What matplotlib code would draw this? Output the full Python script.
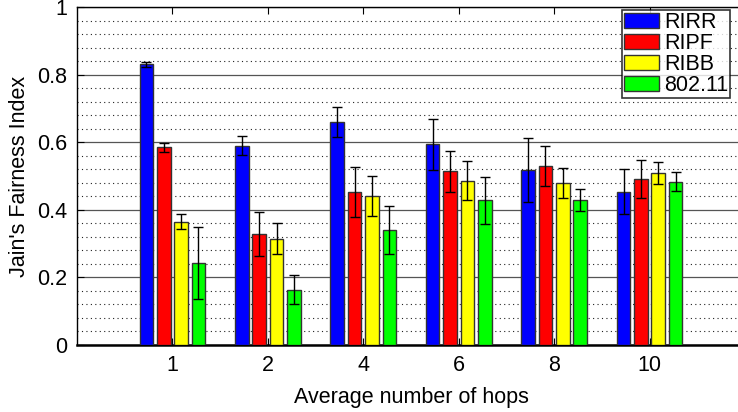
import matplotlib
matplotlib.use("Agg")
import matplotlib.pyplot as plt
import numpy as np
from matplotlib.ticker import FixedLocator

plt.rcParams['font.family'] = ['Liberation Sans', 'DejaVu Sans']

hops = ["1", "2", "4", "6", "8", "10"]
series = ["RIRR", "RIPF", "RIBB", "802.11"]
colors = ["#0000ff", "#ff0000", "#ffff00", "#00ff00"]

rirr = [0.830, 0.590, 0.659, 0.594, 0.517, 0.454]
ripf = [0.585, 0.329, 0.453, 0.514, 0.529, 0.491]
ribb = [0.365, 0.314, 0.441, 0.486, 0.480, 0.508]
wifi = [0.242, 0.163, 0.341, 0.428, 0.429, 0.483]

rirr_err = [0.008, 0.027, 0.045, 0.076, 0.095, 0.067]
ripf_err = [0.013, 0.065, 0.075, 0.060, 0.060, 0.056]
ribb_err = [0.023, 0.046, 0.060, 0.057, 0.044, 0.032]
wifi_err = [0.107, 0.043, 0.071, 0.069, 0.033, 0.028]

values = [rirr, ripf, ribb, wifi]
errors = [rirr_err, ripf_err, ribb_err, wifi_err]

fig = plt.figure(figsize=(7.38, 4.12), dpi=100)
ax = fig.add_axes([77/738, 1-345/412, (745-77)/738, (345-7)/412])

x = np.arange(1, len(hops)+1)
step = 0.182
width = 0.142
for i, (vals, errs, c, name) in enumerate(zip(values, errors, colors, series)):
    pos = x + (i - 1.5) * step
    ax.bar(pos, vals, width=width, color=c, edgecolor="#333333", linewidth=1.0,
           label=name, zorder=3)
    ax.errorbar(pos, vals, yerr=errs, fmt='none', ecolor='black', elinewidth=1.0,
                capsize=3.8, capthick=1.0, zorder=4)

ax.set_xlim(0, 7)
ax.set_ylim(0, 1)
ax.set_xticks(x)
ax.set_xticklabels(hops)
ax.set_yticks([0, 0.2, 0.4, 0.6, 0.8, 1.0])
ax.set_yticklabels(["0", "0.2", "0.4", "0.6", "0.8", "1"])
ax.yaxis.set_minor_locator(FixedLocator([v for v in np.arange(0.04, 1.0, 0.04) if abs((v/0.2) - round(v/0.2)) > 1e-6]))
ax.grid(True, which='major', axis='y', color='#555555', linestyle='-', linewidth=0.9, zorder=0)
ax.grid(True, which='minor', axis='y', color='#222222', linestyle=(0, (1, 3)), linewidth=0.8, zorder=0)
ax.set_axisbelow(True)
ax.tick_params(axis='both', which='major', direction='in', length=5, labelsize=15.5, top=True, right=False, pad=7)
ax.tick_params(axis='y', which='minor', length=0)
for s in ax.spines.values():
    s.set_linewidth(1.0)
ax.spines['bottom'].set_linewidth(1.8)

ax.set_xlabel("Average number of hops", fontsize=15.5, labelpad=8)
ax.set_ylabel("Jain's Fairness Index", fontsize=15.5, labelpad=5)

leg = ax.legend(loc='upper left', fontsize=15.5, frameon=True, fancybox=False, edgecolor='black',
                handlelength=1.6, handleheight=0.65, handletextpad=0.25, labelspacing=0.0,
                borderpad=0.1, borderaxespad=0.0)
leg.set_bbox_to_anchor(((622-77)/668, 1 - 3/338), transform=ax.transAxes)
leg.get_frame().set_linewidth(1.2)

fig.savefig("out.png", dpi=100)
